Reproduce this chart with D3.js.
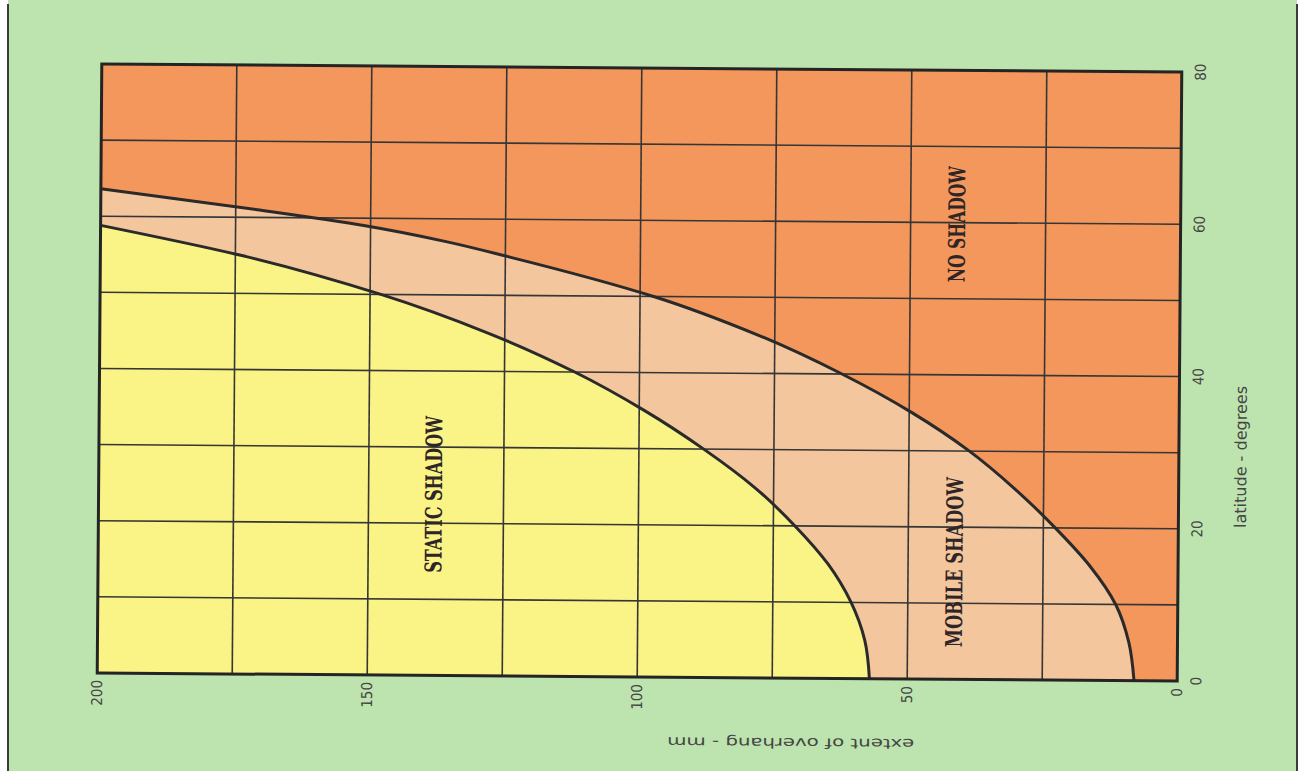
<!DOCTYPE html>
<html>
<head>
<meta charset="utf-8">
<script src="https://cdn.jsdelivr.net/npm/d3@7"></script>
<style>
  body { margin: 0; background: #ffffff; }
  svg { display: block; }
</style>
</head>
<body>
<div id="chart"></div>
<script>
// Chart data
const latTicks = [0, 20, 40, 60, 80];
const overhangTicks = [0, 50, 100, 150, 200];
const latGrid = [10, 20, 30, 40, 50, 60, 70];
const overhangGrid = [25, 50, 75, 100, 125, 150, 175];

// boundary static shadow / mobile shadow
const staticLat = [0, 5, 10, 15, 20, 25, 30, 35, 40, 45, 50, 55, 58.8];
const staticOverhang = [57, 57.9, 60.5, 64.8, 71, 78.5, 88, 99, 112, 128, 148, 174, 200];

// boundary mobile shadow / no shadow
const mobileLat = [0, 5, 10, 15, 20, 25, 30, 35, 40, 45, 50, 55, 57, 59, 61, 63.6];
const mobileOverhang = [8, 9, 11.5, 16.3, 22.8, 30.2, 38.8, 49.5, 62.5, 78, 97.5, 124, 136, 151, 171, 200];

const zoneLabels = ["STATIC SHADOW", "MOBILE SHADOW", "NO SHADOW"];
const xTitle = "extent of overhang - mm";
const yTitle = "latitude - degrees";

// Set H/W
const svgWidth = 1306;
const svgHeight = 771;
const width = 1080;
const height = 609;
const centre = { x: 639.5, y: 372.5 };

const svg = d3.select("#chart")
  .append("svg")
  .attr("width", svgWidth)
  .attr("height", svgHeight);

// green page with dark edges
svg.append("rect")
  .attr("x", 8).attr("y", 0)
  .attr("width", 1289).attr("height", svgHeight)
  .attr("fill", "#bde4ae");
[8, 1297].forEach(px => {
  svg.append("line")
    .attr("x1", px).attr("x2", px)
    .attr("y1", 4).attr("y2", svgHeight)
    .attr("stroke", "#3c3c3c")
    .attr("stroke-width", 2);
});

// the scan is turned a little, so is the chart group
const chartGroup = svg.append("g")
  .attr("transform", `translate(${centre.x}, ${centre.y}) rotate(0.43) translate(${-width / 2}, ${-height / 2})`);

const x = d3.scaleLinear().domain([200, 0]).range([0, width]);
const y = d3.scaleLinear().domain([0, 80]).range([height, 0]);

const staticData = staticLat.map((lat, i) => ({ lat: lat, mm: staticOverhang[i] }));
const mobileData = mobileLat.map((lat, i) => ({ lat: lat, mm: mobileOverhang[i] }));

// no shadow background
chartGroup.append("rect")
  .attr("width", width)
  .attr("height", height)
  .attr("fill", "#f4975c");

const area = d3.area()
  .curve(d3.curveMonotoneY)
  .y(d => y(d.lat))
  .x0(x(200))
  .x1(d => x(d.mm));

chartGroup.append("path")
  .datum(mobileData)
  .attr("d", area)
  .attr("fill", "#f4c69d");

chartGroup.append("path")
  .datum(staticData)
  .attr("d", area)
  .attr("fill", "#faf386");

// grid
chartGroup.selectAll(".vgrid")
  .data(overhangGrid)
  .enter()
  .append("line")
  .attr("class", "vgrid")
  .attr("x1", d => x(d)).attr("x2", d => x(d))
  .attr("y1", 0).attr("y2", height)
  .attr("stroke", "#363636")
  .attr("stroke-width", 1.6);

chartGroup.selectAll(".hgrid")
  .data(latGrid)
  .enter()
  .append("line")
  .attr("class", "hgrid")
  .attr("x1", 0).attr("x2", width)
  .attr("y1", d => y(d)).attr("y2", d => y(d))
  .attr("stroke", "#363636")
  .attr("stroke-width", 1.6);

// boundary curves
const line = d3.line()
  .curve(d3.curveMonotoneY)
  .x(d => x(d.mm))
  .y(d => y(d.lat));

[staticData, mobileData].forEach(data => {
  chartGroup.append("path")
    .datum(data)
    .attr("d", line)
    .attr("fill", "none")
    .attr("stroke", "#2a2a2a")
    .attr("stroke-width", 3);
});

chartGroup.append("rect")
  .attr("width", width)
  .attr("height", height)
  .attr("fill", "none")
  .attr("stroke", "#242424")
  .attr("stroke-width", 3);

// tick labels
const tickFont = "'DejaVu Sans Condensed', 'DejaVu Sans', sans-serif";

chartGroup.selectAll(".lat-label")
  .data(latTicks)
  .enter()
  .append("text")
  .attr("class", "lat-label")
  .attr("transform", d => `translate(${width + 19}, ${y(d)}) rotate(-90)`)
  .attr("text-anchor", "middle")
  .attr("dominant-baseline", "central")
  .style("font-family", tickFont)
  .style("font-stretch", "condensed")
  .style("font-size", "15px")
  .attr("fill", "#454545")
  .text(d => d);

chartGroup.selectAll(".mm-label")
  .data(overhangTicks)
  .enter()
  .append("text")
  .attr("class", "mm-label")
  .attr("transform", d => `translate(${x(d)}, ${height + 7}) rotate(-90)`)
  .attr("text-anchor", "end")
  .attr("dominant-baseline", "central")
  .style("font-family", tickFont)
  .style("font-stretch", "condensed")
  .style("font-size", "15px")
  .attr("fill", "#454545")
  .text(d => d);

// axis titles
chartGroup.append("text")
  .attr("transform", `translate(${width + 62}, ${y(29.5)}) rotate(-90)`)
  .attr("text-anchor", "middle")
  .attr("dominant-baseline", "central")
  .attr("textLength", 142)
  .attr("lengthAdjust", "spacingAndGlyphs")
  .style("font-family", tickFont)
  .style("font-size", "16px")
  .attr("fill", "#454545")
  .text(yTitle);

chartGroup.append("text")
  .attr("transform", `translate(${x(71.5)}, ${height + 65}) rotate(180)`)
  .attr("text-anchor", "middle")
  .attr("dominant-baseline", "central")
  .attr("textLength", 247)
  .attr("lengthAdjust", "spacingAndGlyphs")
  .style("font-family", "'DejaVu Sans', sans-serif")
  .style("font-size", "14px")
  .attr("fill", "#454545")
  .text(xTitle);

// zone labels
const zonePos = [
  { mm: 138, lat: 23.8, len: 157 },
  { mm: 41.5, lat: 15.4, len: 170 },
  { mm: 41.5, lat: 59.8, len: 116 }
];

chartGroup.selectAll(".zone")
  .data(zoneLabels)
  .enter()
  .append("text")
  .attr("class", "zone")
  .attr("transform", (d, i) => `translate(${x(zonePos[i].mm)}, ${y(zonePos[i].lat)}) rotate(-90)`)
  .attr("text-anchor", "middle")
  .attr("dominant-baseline", "central")
  .attr("textLength", (d, i) => zonePos[i].len)
  .attr("lengthAdjust", "spacingAndGlyphs")
  .style("font-family", "'DejaVu Serif Condensed', 'DejaVu Serif', serif")
  .style("font-weight", "bold")
  .style("font-size", "23px")
  .attr("fill", "#2e2626")
  .text(d => d);
</script>
</body>
</html>
